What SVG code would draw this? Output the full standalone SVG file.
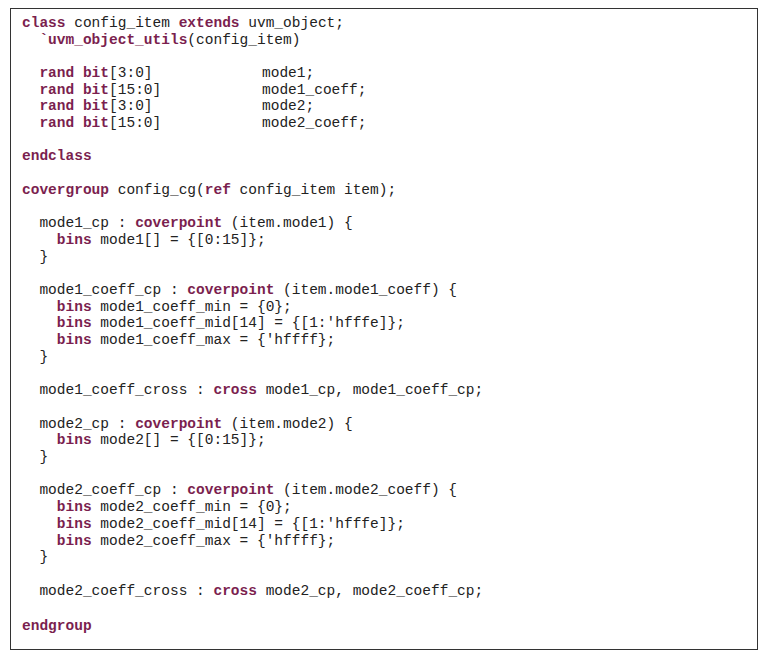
<svg xmlns="http://www.w3.org/2000/svg" width="768" height="663" viewBox="0 0 768 663">
<style>
text{font-family:"Liberation Mono","Courier New",monospace;font-size:14.5px;fill:#222;white-space:pre}
.k{fill:#7b1f4f;font-weight:bold}
</style>
<rect width="768" height="663" fill="#fff"/>
<rect x="10.5" y="8.5" width="747" height="641" fill="none" stroke="#333" stroke-width="1"/>
<g id="code" xml:space="preserve">
<text x="22" y="27"><tspan class="k">class</tspan> config_item <tspan class="k">extends</tspan> uvm_object;</text>
<text x="22" y="43.7">  <tspan class="k">`uvm_object_utils</tspan>(config_item)</text>
<text x="22" y="77">  <tspan class="k">rand bit</tspan>[3:0]</text><text x="262" y="77">mode1;</text>
<text x="22" y="93.7">  <tspan class="k">rand bit</tspan>[15:0]</text><text x="262" y="93.7">mode1_coeff;</text>
<text x="22" y="110.4">  <tspan class="k">rand bit</tspan>[3:0]</text><text x="262" y="110.4">mode2;</text>
<text x="22" y="127">  <tspan class="k">rand bit</tspan>[15:0]</text><text x="262" y="127">mode2_coeff;</text>
<text x="22" y="160.4"><tspan class="k">endclass</tspan></text>
<text x="22" y="193.8"><tspan class="k">covergroup</tspan> config_cg(<tspan class="k">ref</tspan> config_item item);</text>
<text x="22" y="227.2">  mode1_cp : <tspan class="k">coverpoint</tspan> (item.mode1) {</text>
<text x="22" y="243.9">    <tspan class="k">bins</tspan> mode1[] = {[0:15]};</text>
<text x="22" y="260.6">  }</text>
<text x="22" y="294">  mode1_coeff_cp : <tspan class="k">coverpoint</tspan> (item.mode1_coeff) {</text>
<text x="22" y="310.7">    <tspan class="k">bins</tspan> mode1_coeff_min = {0};</text>
<text x="22" y="327.4">    <tspan class="k">bins</tspan> mode1_coeff_mid[14] = {[1:'hfffe]};</text>
<text x="22" y="344.1">    <tspan class="k">bins</tspan> mode1_coeff_max = {'hffff};</text>
<text x="22" y="360.8">  }</text>
<text x="22" y="394.2">  mode1_coeff_cross : <tspan class="k">cross</tspan> mode1_cp, mode1_coeff_cp;</text>
<text x="22" y="427.6">  mode2_cp : <tspan class="k">coverpoint</tspan> (item.mode2) {</text>
<text x="22" y="444.3">    <tspan class="k">bins</tspan> mode2[] = {[0:15]};</text>
<text x="22" y="461">  }</text>
<text x="22" y="494.4">  mode2_coeff_cp : <tspan class="k">coverpoint</tspan> (item.mode2_coeff) {</text>
<text x="22" y="511.1">    <tspan class="k">bins</tspan> mode2_coeff_min = {0};</text>
<text x="22" y="527.8">    <tspan class="k">bins</tspan> mode2_coeff_mid[14] = {[1:'hfffe]};</text>
<text x="22" y="544.5">    <tspan class="k">bins</tspan> mode2_coeff_max = {'hffff};</text>
<text x="22" y="561.2">  }</text>
<text x="22" y="594.6">  mode2_coeff_cross : <tspan class="k">cross</tspan> mode2_cp, mode2_coeff_cp;</text>
<text x="22" y="630"><tspan class="k">endgroup</tspan></text>
</g>
</svg>
